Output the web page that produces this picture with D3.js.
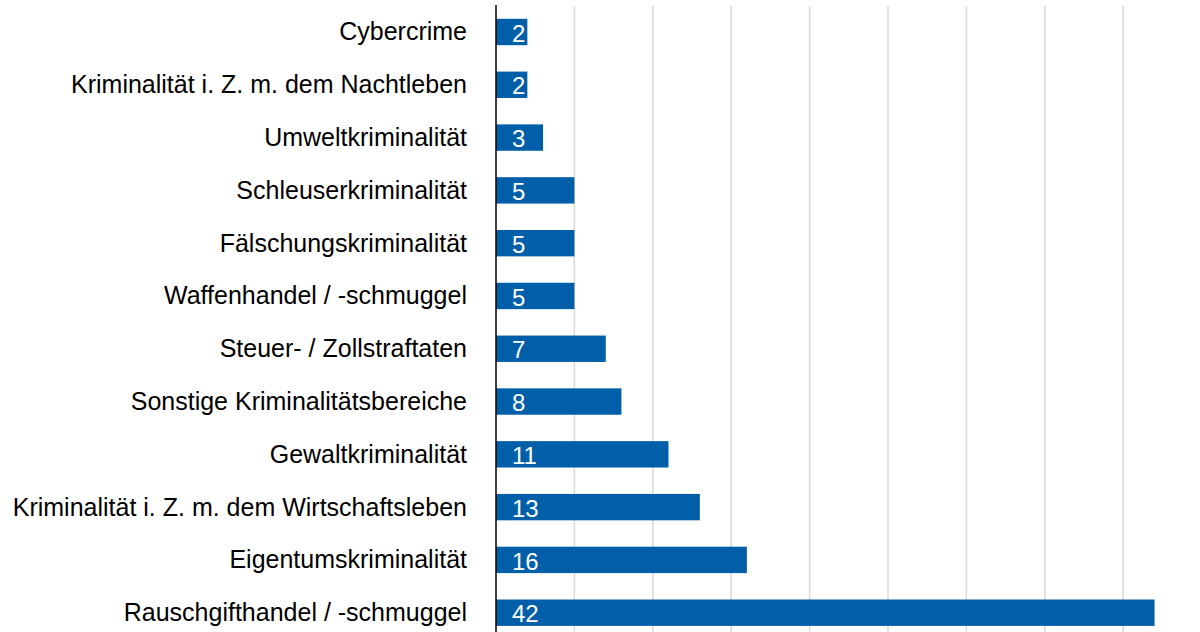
<!DOCTYPE html>
<html>
<head>
<meta charset="utf-8">
<script src="https://cdn.jsdelivr.net/npm/d3@7"></script>
<style>
  html, body { margin: 0; padding: 0; background: #ffffff; }
  svg { display: block; font-family: "Liberation Sans", Arial, sans-serif; }
</style>
</head>
<body>
<svg id="chart" width="1200" height="632"></svg>
<script>
const categories = [
  "Cybercrime",
  "Kriminalität i. Z. m. dem Nachtleben",
  "Umweltkriminalität",
  "Schleuserkriminalität",
  "Fälschungskriminalität",
  "Waffenhandel / -schmuggel",
  "Steuer- / Zollstraftaten",
  "Sonstige Kriminalitätsbereiche",
  "Gewaltkriminalität",
  "Kriminalität i. Z. m. dem Wirtschaftsleben",
  "Eigentumskriminalität",
  "Rauschgifthandel / -schmuggel"
];
const values = [2, 2, 3, 5, 5, 5, 7, 8, 11, 13, 16, 42];
const gridTicks = [5, 10, 15, 20, 25, 30, 35, 40];

const svg = d3.select("#chart");
const x = d3.scaleLinear().domain([0, 45]).range([496, 1201.6]);
const y = d3.scaleBand().domain(categories).range([5.6, 639.1]).paddingInner(0.5).paddingOuter(0.25);

// gridlines
svg.append("g").selectAll("line").data(gridTicks).join("line")
  .attr("x1", d => x(d)).attr("x2", d => x(d))
  .attr("y1", 6).attr("y2", 632)
  .attr("stroke", "#d9d9d9").attr("stroke-width", 1.5);

// bars
const data = categories.map((c, i) => ({ c, v: values[i] }));
svg.append("g").selectAll("rect").data(data).join("rect")
  .attr("x", x(0)).attr("y", d => y(d.c))
  .attr("width", d => x(d.v) - x(0)).attr("height", y.bandwidth())
  .attr("fill", "#005fa8");

// value labels
svg.append("g").selectAll("text").data(data).join("text")
  .attr("x", x(0) + 16).attr("y", d => y(d.c) + y.bandwidth() / 2)
  .attr("dy", "0.4em")
  .attr("fill", "#ffffff").attr("font-size", 24)
  .text(d => d.v);

// axis (left) with category labels
const yAxis = d3.axisLeft(y).tickSize(0).tickPadding(29);
const gAxis = svg.append("g").attr("transform", `translate(${x(0)},0)`).call(yAxis);
gAxis.select(".domain").remove();
gAxis.selectAll("text").attr("font-size", 25).attr("fill", "#000")
  .attr("dy", "0.34em")
  .attr("font-family", "Liberation Sans, Arial, sans-serif");

svg.append("line")
  .attr("x1", x(0)).attr("x2", x(0)).attr("y1", 5).attr("y2", 632)
  .attr("stroke", "#000").attr("stroke-width", 1.5);
</script>
</body>
</html>
